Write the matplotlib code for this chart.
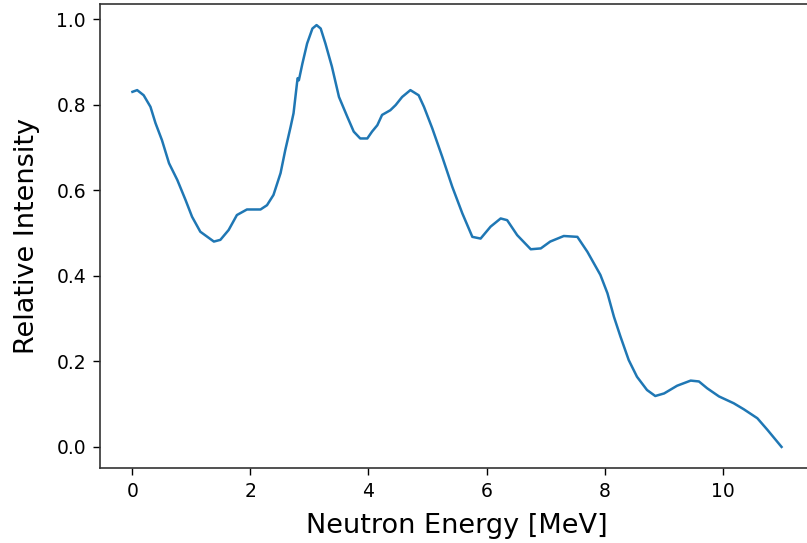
import numpy as np
import matplotlib
matplotlib.use("Agg")
import matplotlib.pyplot as plt

# spectrum
energy = [0.0, 0.08, 0.19, 0.305, 0.39, 0.50, 0.62, 0.76, 0.90, 1.01, 1.15, 1.38, 1.49,
          1.63, 1.77, 1.94, 2.17, 2.28, 2.39, 2.51, 2.59, 2.68, 2.73, 2.79, 2.80, 2.82,
          2.88, 2.96, 3.05, 3.12, 3.19, 3.27, 3.38, 3.50, 3.64, 3.75, 3.86, 3.98, 4.06,
          4.15, 4.23, 4.37, 4.46, 4.57, 4.71, 4.85, 4.94, 5.08, 5.25, 5.42, 5.59, 5.76,
          5.90, 6.07, 6.24, 6.35, 6.52, 6.75, 6.92, 7.08, 7.31, 7.54, 7.71, 7.93, 8.05,
          8.16, 8.27, 8.41, 8.55, 8.72, 8.86, 9.01, 9.23, 9.46, 9.60, 9.74, 9.94, 10.19,
          10.36, 10.59, 10.76, 11.0]
intensity = [0.830, 0.834, 0.822, 0.795, 0.757, 0.717, 0.663, 0.624, 0.577, 0.538, 0.503,
             0.480, 0.484, 0.507, 0.542, 0.555, 0.555, 0.565, 0.589, 0.640, 0.694, 0.748,
             0.780, 0.852, 0.862, 0.857, 0.896, 0.943, 0.978, 0.986, 0.978, 0.943, 0.889,
             0.818, 0.772, 0.737, 0.721, 0.721, 0.737, 0.752, 0.776, 0.787, 0.799, 0.818,
             0.834, 0.822, 0.795, 0.745, 0.678, 0.608, 0.546, 0.491, 0.487, 0.515, 0.534,
             0.530, 0.495, 0.462, 0.464, 0.480, 0.493, 0.491, 0.456, 0.402, 0.359, 0.304,
             0.258, 0.203, 0.164, 0.133, 0.119, 0.125, 0.143, 0.155, 0.153, 0.137, 0.118,
             0.102, 0.088, 0.067, 0.040, 0.0]

fig = plt.figure(figsize=(8.07, 5.43), dpi=100)
# axes run a little past the right edge of the picture, like the cropped original
ax = fig.add_axes([100 / 807, 75 / 543, 714 / 807, 464 / 543])
ax.plot(energy, intensity, color="#1f77b4", linewidth=1.8)
ax.set_xlabel("Neutron Energy [MeV]", fontsize=19.5, labelpad=9)
ax.set_ylabel("Relative Intensity", fontsize=19.5, labelpad=12)
ax.tick_params(labelsize=13.5, length=5, width=1.0, pad=5)
ax.spines["right"].set_visible(False)
for s in ax.spines.values():
    s.set_linewidth(1.2)
    s.set_color("#333333")

fig.savefig("out.png", dpi=100)
